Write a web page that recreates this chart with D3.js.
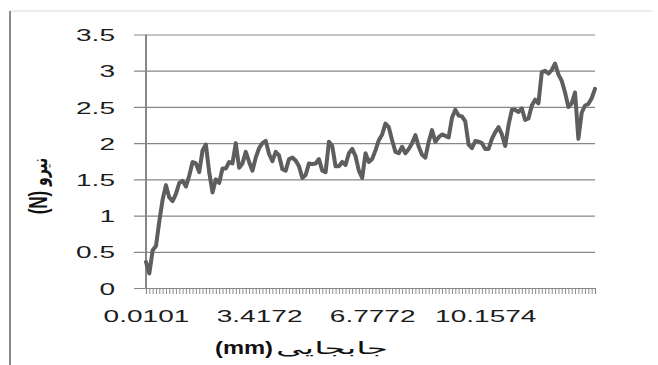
<!DOCTYPE html>
<html>
<head>
<meta charset="utf-8">
<script src="https://cdn.jsdelivr.net/npm/d3@7/dist/d3.min.js"></script>
<style>
  html, body { margin: 0; padding: 0; background: #fff; }
  svg { display: block; }
</style>
</head>
<body>
<script>
// Force (N) measured along the displacement samples
const force = [
  0.36, 0.20, 0.52, 0.58, 0.92, 1.22, 1.42, 1.25, 1.20, 1.30,
  1.45, 1.48, 1.40, 1.55, 1.74, 1.72, 1.60, 1.90, 1.98, 1.60,
  1.32, 1.50, 1.45, 1.65, 1.65, 1.74, 1.72, 2.00, 1.66, 1.72,
  1.88, 1.74, 1.62, 1.80, 1.93, 2.00, 2.03, 1.85, 1.75, 1.88,
  1.83, 1.64, 1.62, 1.78, 1.80, 1.76, 1.68, 1.52, 1.56, 1.72,
  1.71, 1.72, 1.78, 1.62, 1.60, 2.02, 1.96, 1.68, 1.68, 1.74,
  1.70, 1.86, 1.92, 1.82, 1.62, 1.52, 1.86, 1.74, 1.78, 1.90,
  2.04, 2.12, 2.27, 2.22, 2.04, 1.88, 1.86, 1.95, 1.86, 1.92,
  2.00, 2.11, 1.95, 1.84, 1.80, 2.02, 2.18, 2.02, 2.08, 2.12,
  2.10, 2.08, 2.35, 2.46, 2.38, 2.37, 2.30, 1.98, 1.93, 2.03,
  2.02, 2.00, 1.92, 1.92, 2.06, 2.15, 2.22, 2.12, 1.96, 2.25,
  2.46, 2.46, 2.43, 2.48, 2.32, 2.34, 2.52, 2.60, 2.55, 2.98,
  3.00, 2.96, 3.01, 3.10, 2.95, 2.86, 2.70, 2.50, 2.55, 2.70,
  2.06, 2.42, 2.52, 2.54, 2.62, 2.75
];

// Displacement (mm) labels shown on the category axis, and where they sit
const xTickLabels = ["0.0101", "3.4172", "6.7772", "10.1574"];
const xTickIndex = [0, 34, 68, 102];

// Force axis ticks
const yTicks = [0, 0.5, 1, 1.5, 2, 2.5, 3, 3.5];

const W = 658, H = 365;
const plotLeft = 146, plotRight = 595, plotTop = 34.5, plotBottom = 288;
const stretch = 1.65;

const svg = d3.select("body").append("svg")
  .attr("width", W).attr("height", H);

// frame edges
svg.append("line").attr("x1", 10).attr("x2", 652).attr("y1", 11).attr("y2", 11)
  .attr("stroke", "#d9d9d9").attr("stroke-width", 1);
svg.append("line").attr("x1", 10).attr("x2", 10).attr("y1", 11).attr("y2", H)
  .attr("stroke", "#8a8a8a").attr("stroke-width", 2);

const x = d3.scalePoint().domain(d3.range(force.length)).range([plotLeft, plotRight]);
const y = d3.scaleLinear().domain([0, 3.5]).range([plotBottom, plotTop]);

// horizontal gridlines with tick labels
const yAxis = d3.axisLeft(y)
  .tickValues(yTicks)
  .tickSize(-(plotRight - 134))
  .tickPadding(0)
  .tickFormat(d => d3.format("~g")(d));
const gy = svg.append("g").attr("transform", "translate(134,0)").call(yAxis);
gy.select(".domain").remove();
gy.selectAll(".tick line").attr("stroke", "#878787").attr("stroke-width", 1.2);
gy.selectAll(".tick text")
  .attr("x", 0).attr("dy", "0.36em")
  .attr("transform", `translate(-19,0) scale(${stretch},1)`)
  .attr("fill", "#1c1c1c")
  .style("font-family", "'Liberation Sans', Arial, sans-serif")
  .style("font-size", "17px");

// category axis: tick marks at every sample, labels at a few
const labelAt = new Map(xTickIndex.map((d, i) => [d, xTickLabels[i]]));
const xAxis = d3.axisBottom(x)
  .tickValues(d3.range(force.length))
  .tickSize(6)
  .tickPadding(4)
  .tickFormat(d => labelAt.has(d) ? labelAt.get(d) : "");
const gx = svg.append("g").attr("transform", `translate(0,${plotBottom})`).call(xAxis);
gx.select(".domain").attr("stroke", "#878787").attr("stroke-width", 1.2);
gx.selectAll(".tick line").attr("stroke", "#8c8c8c").attr("stroke-width", 1);
gx.selectAll(".tick text")
  .attr("y", 0).attr("dy", 0)
  .attr("transform", `translate(0,34) scale(${stretch},1)`)
  .attr("fill", "#1c1c1c")
  .style("font-family", "'Liberation Sans', Arial, sans-serif")
  .style("font-size", "17px");

// vertical value axis
svg.append("line").attr("x1", plotLeft).attr("x2", plotLeft).attr("y1", plotTop).attr("y2", plotBottom + 1)
  .attr("stroke", "#878787").attr("stroke-width", 2);

// force curve
svg.append("path")
  .datum(force)
  .attr("fill", "none")
  .attr("stroke", "#5e5e5e")
  .attr("stroke-width", 4)
  .attr("stroke-linejoin", "round")
  .attr("stroke-linecap", "round")
  .attr("d", d3.line().x((d, i) => x(i)).y(d => y(d)));

// x axis title: unit in bold, Persian word beside it
svg.append("text")
  .attr("x", 215).attr("y", 354)
  .attr("textLength", 58).attr("lengthAdjust", "spacingAndGlyphs")
  .attr("fill", "#111")
  .style("font-family", "'Liberation Sans', sans-serif")
  .style("font-size", "18px").style("font-weight", "bold")
  .text("(mm)");
svg.append("text")
  .attr("x", 276).attr("y", 354)
  .attr("textLength", 112).attr("lengthAdjust", "spacingAndGlyphs")
  .attr("fill", "#111")
  .style("font-family", "'DejaVu Sans', sans-serif")
  .style("font-size", "17px")
  .text("جابجایی");

// y axis title
const yt = svg.append("text")
  .attr("transform", "translate(47,186) rotate(-90) scale(1,1.5)")
  .attr("text-anchor", "middle")
  .attr("fill", "#111")
  .style("font-family", "'Liberation Sans', 'DejaVu Sans', sans-serif")
  .style("font-size", "17px");
yt.append("tspan").style("font-weight", "bold").text("(N) ");
yt.append("tspan").style("font-family", "'DejaVu Sans', sans-serif").style("font-size", "14px").style("font-weight", "bold").text("نیرو");
</script>
</body>
</html>
